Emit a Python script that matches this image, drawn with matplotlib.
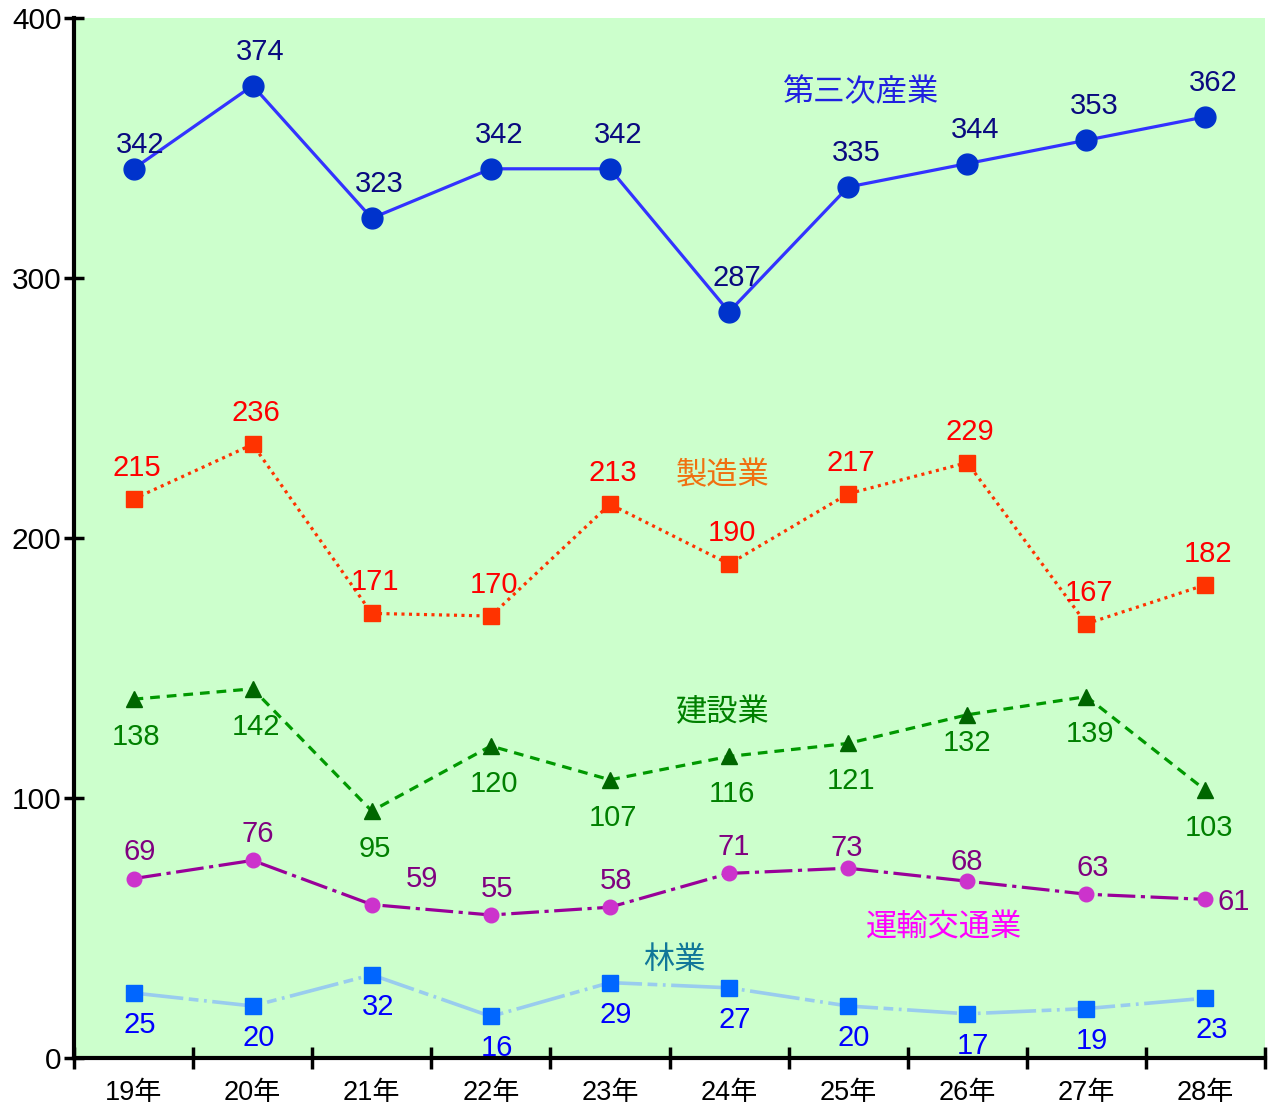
import matplotlib
matplotlib.use("Agg")
import matplotlib.pyplot as plt

plt.rcParams['font.family'] = ['Liberation Sans', 'Noto Sans CJK JP', 'DejaVu Sans']
plt.rcParams['lines.scale_dashes'] = False

years = ["19年", "20年", "21年", "22年", "23年", "24年", "25年", "26年", "27年", "28年"]
tertiary = [342, 374, 323, 342, 342, 287, 335, 344, 353, 362]
manufacturing = [215, 236, 171, 170, 213, 190, 217, 229, 167, 182]
construction = [138, 142, 95, 120, 107, 116, 121, 132, 139, 103]
transport = [69, 76, 59, 55, 58, 71, 73, 68, 63, 61]
forestry = [25, 20, 32, 16, 29, 27, 20, 17, 19, 23]

fig = plt.figure(figsize=(12.7, 11.06), dpi=100)
ax = fig.add_axes([74/1270, 48/1106, (1265-74)/1270, (1058-18)/1106])
ax.set_facecolor('#ccffcc')
x = list(range(len(years)))

PX = 0.72  # points per pixel at 100 dpi
FS = 21

def label(ax, xs, ys, color, offsets):
    for xi, yi, (dx, dy) in zip(xs, ys, offsets):
        ax.annotate(str(yi), (xi, yi), xytext=(dx*PX, -(dy + 2)*PX), textcoords='offset points',
                    ha='center', va='center', fontsize=FS, color=color, zorder=6)

# tertiary
ax.plot(x, tertiary, color='#3333ff', lw=2.3, zorder=3)
ax.plot(x, tertiary, 'o', color='#0033cc', ms=15, zorder=4)
off_t = [(7, -26)] + [(8, -36)]*9
label(ax, x, tertiary, '#0a0a80', off_t)

# manufacturing
ax.plot(x, manufacturing, color='#ff3300', lw=2.3, ls=(0, (2.2, 3.2)), zorder=3)
ax.plot(x, manufacturing, 's', color='#ff3300', ms=11, zorder=4)
label(ax, x, manufacturing, '#ff0000', [(3, -33)]*10)

# construction
ax.plot(x, construction, color='#009900', lw=2.3, ls=(0, (7, 5)), zorder=3)
ax.plot(x, construction, '^', color='#006600', ms=11, zorder=4)
off_c = [(3, 36)]*7 + [(0, 26), (4, 35), (4, 36)]
label(ax, x, construction, '#008000', off_c)

# transport
ax.plot(x, transport, color='#990099', lw=2.3, ls=(0, (20, 4, 3, 4)), zorder=3)
ax.plot(x, transport, 'o', color='#cc33cc', ms=10.5, zorder=4)
off_tr = [(6, -29), (5, -28), (50, -28), (6, -28), (6, -28), (5, -28), (-1, -22), (0, -21), (6, -28), (28, 1)]
label(ax, x, transport, '#800080', off_tr)

# forestry
ax.plot(x, forestry, color='#99ccee', lw=2.6, ls=(0, (36, 4, 7, 4, 2, 4)), zorder=3)
ax.plot(x, forestry, 's', color='#0066ff', ms=11, zorder=4)
label(ax, x, forestry, '#0000ff', [(6, 30)]*10)

# series names
def name(px, py, s, color):
    ax.text((px - 74) / 119 - 0.5, (1058 - py - 3) / 2.6, s, color=color, fontsize=22.5,
            ha='center', va='center', zorder=6)
name(860, 90, '第三次産業', '#2020e0')
name(722, 473, '製造業', '#f07010')
name(722, 710, '建設業', '#008000')
name(943, 925, '運輸交通業', '#ff00ff')
name(674, 958, '林業', '#117799')

ax.set_xlim(-0.5, 9.5)
ax.set_ylim(0, 400)
ax.set_yticks([0, 100, 200, 300, 400])
ax.set_xticks([i - 0.5 for i in range(11)])
ax.set_xticklabels([])
ax.set_xticks(x, minor=True)
ax.set_xticklabels(years, minor=True, fontsize=19.5)
ax.tick_params(axis='x', which='major', direction='inout', length=16, width=2.5)
ax.tick_params(axis='x', which='minor', length=0, pad=16)
ax.tick_params(axis='y', direction='inout', length=15, width=2.5, labelsize=21.5, pad=1.5)
for s in ['top', 'right']:
    ax.spines[s].set_visible(False)
for s in ['left', 'bottom']:
    ax.spines[s].set_linewidth(3)

fig.savefig('out.png', dpi=100)
